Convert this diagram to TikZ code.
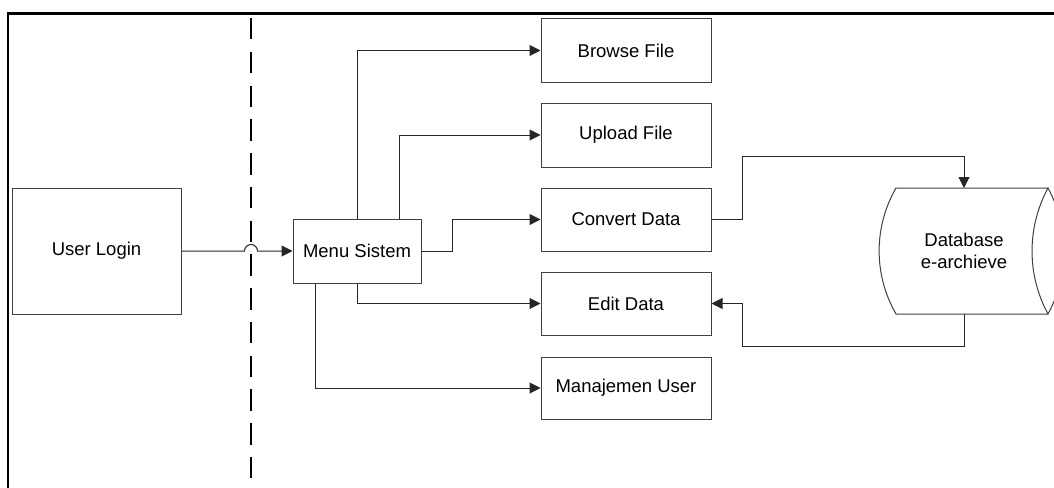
\documentclass[tikz,border=0pt]{standalone}
\usepackage{fontspec}
\setmainfont{Liberation Sans}
\usetikzlibrary{arrows.meta}
\begin{document}
\begin{tikzpicture}[x=1pt,y=-1pt,
  box/.style={draw=black!75,line width=1pt,inner sep=0pt,minimum width=170pt,minimum height=63pt,font=\fontsize{18.5}{22}\selectfont,text=black},
  conn/.style={draw=black!85,line width=1pt},
  arr/.style={conn,-{Triangle[length=11pt,width=11pt]}}]
\useasboundingbox (0,0) rectangle (1054,487);
% frame and separator
\draw[line width=2.5pt] (8,495) -- (8,13.5) -- (1060,13.5);
\draw[line width=2.2pt,dash pattern=on 21.5pt off 12.25pt] (251,18) -- (251,495);
% nodes
\node[box,minimum width=169pt,minimum height=126pt] (login) at (96.5,251) {User Login};
\node[box,minimum width=128pt,minimum height=64pt] (menu) at (357,251) {Menu Sistem};
\node[box] (browse) at (626,50.5) {Browse File};
\node[box,minimum height=64pt] (upload) at (626,135) {Upload File};
\node[box] (convert) at (626,219.5) {Convert Data};
\node[box] (edit) at (626,303.5) {Edit Data};
\node[box,minimum height=62pt] (manaj) at (626,388) {Manajemen User};
% database
\draw[draw=black!75,line width=1pt] (1048,188) -- (896,188) .. controls (873.5,227) and (873.5,275) .. (896,314) -- (1048,314);
\draw[draw=black!75,line width=1pt] (1048,188) .. controls (1026.7,227.3) and (1026.7,274.7) .. (1048,314)
  .. controls (1069.3,274.7) and (1069.3,227.3) .. cycle;
\node[font=\fontsize{18.5}{22}\selectfont,align=center,text=black] (db) at (964,251) {Database\\e-archieve};
\coordinate (dbtop) at (964,188);
\coordinate (dbbot) at (964,314);
% connectors
\draw[arr] (login.east) -- (244.5,251) arc[start angle=180,end angle=360,radius=6.5] -- (menu.west);
\draw[arr] (menu.north) |- (browse.west);
\draw[arr] ([xshift=42pt]menu.north) |- (upload.west);
\draw[arr] (menu.east) -- ++(31,0) |- (convert.west);
\draw[arr] (menu.south) |- (edit.west);
\draw[arr] ([xshift=-42pt]menu.south) |- (manaj.west);
\draw[arr] (convert.east) -- ++(31,0) |- (964,156) -- (dbtop);
\draw[arr] (dbbot) |- (742,346) |- (edit.east);
\end{tikzpicture}
\end{document}
